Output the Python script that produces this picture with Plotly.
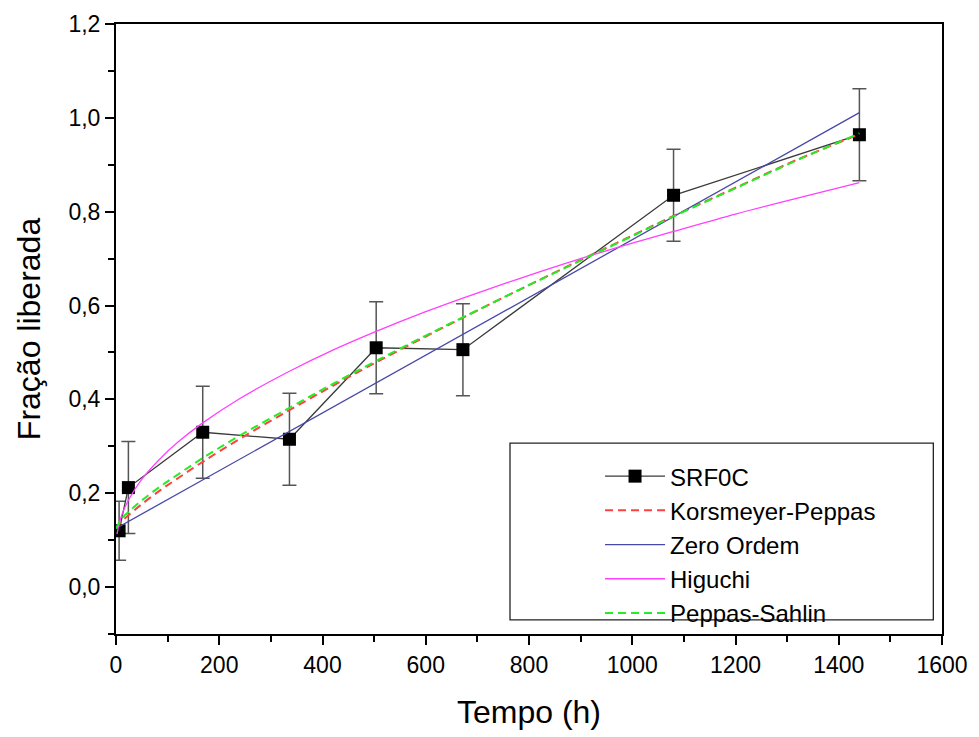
import plotly.graph_objects as go

# ---- data ----
t_exp = [6, 24, 168, 336, 504, 672, 1080, 1440]
f_exp = [0.120, 0.212, 0.330, 0.315, 0.510, 0.506, 0.835, 0.964]
f_err = [0.063, 0.098, 0.098, 0.098, 0.098, 0.098, 0.098, 0.098]

t_kp = [0, 12, 24, 48, 84, 120, 168, 240, 336, 420, 504, 600, 672, 780, 900, 1000, 1080, 1200, 1320, 1440]
f_kp = [0.125, 0.141, 0.153, 0.175, 0.205, 0.232, 0.267, 0.316, 0.377, 0.429, 0.479, 0.534,
        0.574, 0.633, 0.697, 0.749, 0.791, 0.851, 0.911, 0.965]

t_zero = [0, 1440]
f_zero = [0.125, 1.011]

t_hig = [2, 6, 12, 24, 48, 84, 120, 168, 240, 336, 420, 504, 600, 672, 780, 900, 1000, 1080, 1200, 1320, 1440]
f_hig = [0.113, 0.135, 0.156, 0.185, 0.227, 0.272, 0.309, 0.350, 0.402, 0.460, 0.505, 0.545,
         0.587, 0.616, 0.657, 0.700, 0.733, 0.758, 0.795, 0.829, 0.862]

t_ps = t_kp
f_ps = [0.125, 0.147, 0.160, 0.183, 0.213, 0.240, 0.275, 0.323, 0.382, 0.433, 0.482, 0.536,
        0.575, 0.633, 0.696, 0.748, 0.790, 0.850, 0.910, 0.967]

x_tickvals = [0, 200, 400, 600, 800, 1000, 1200, 1400, 1600]
x_ticktext = ["0", "200", "400", "600", "800", "1000", "1200", "1400", "1600"]
y_tickvals = [0.0, 0.2, 0.4, 0.6, 0.8, 1.0, 1.2]
y_ticktext = ["0,0", "0,2", "0,4", "0,6", "0,8", "1,0", "1,2"]

FONT = "Liberation Sans, Arial, sans-serif"

fig = go.Figure()

fig.add_trace(go.Scatter(
    x=t_exp, y=f_exp, name="SRF0C", mode="lines+markers",
    line=dict(color="#3a3a3a", width=1.3),
    marker=dict(symbol="square", size=13, color="black"),
    error_y=dict(type="data", array=f_err, visible=True, color="#555555",
                 thickness=1.5, width=7),
))
fig.add_trace(go.Scatter(
    x=t_kp, y=f_kp, name="Korsmeyer-Peppas", mode="lines", line_shape="spline",
    line=dict(color="#ff4040", width=2, dash="8px,5px"),
))
fig.add_trace(go.Scatter(
    x=t_zero, y=f_zero, name="Zero Ordem", mode="lines",
    line=dict(color="#4848a8", width=1.3),
))
fig.add_trace(go.Scatter(
    x=t_hig, y=f_hig, name="Higuchi", mode="lines", line_shape="spline",
    line=dict(color="#ff40ff", width=1.3),
))
fig.add_trace(go.Scatter(
    x=t_ps, y=f_ps, name="Peppas-Sahlin", mode="lines", line_shape="spline",
    line=dict(color="#22ee22", width=2, dash="8px,5px"),
))

# legend frame
fig.add_shape(type="rect", xref="paper", yref="paper",
              x0=0.477, x1=0.9895, y0=0.023, y1=0.313,
              line=dict(color="#222222", width=1.3), fillcolor="white", layer="below")

axis_common = dict(
    showline=True, linecolor="black", linewidth=2, mirror=True,
    ticks="outside", ticklen=9, tickwidth=2, tickcolor="black",
    showgrid=False, zeroline=False,
    tickfont=dict(family=FONT, size=23, color="black"),
)

fig.update_xaxes(
    range=[0, 1600], tickvals=x_tickvals, ticktext=x_ticktext,
    minor=dict(ticks="outside", ticklen=6, tickwidth=2, tickcolor="black", dtick=100, showgrid=False),
    title=dict(text="Tempo (h)", font=dict(family=FONT, size=32, color="black"), standoff=24),
    **axis_common,
)
fig.update_yaxes(
    range=[-0.1, 1.2], tickvals=y_tickvals, ticktext=y_ticktext,
    minor=dict(ticks="outside", ticklen=6, tickwidth=2, tickcolor="black", dtick=0.1, tick0=0, showgrid=False),
    title=dict(text="Fração liberada", font=dict(family=FONT, size=32, color="black"), standoff=18),
    **axis_common,
)

fig.update_layout(
    width=979, height=737,
    margin=dict(l=116, r=37, t=24, b=103),
    plot_bgcolor="white", paper_bgcolor="white",
    legend=dict(
        x=0.586, y=0.295, xanchor="left", yanchor="top",
        bgcolor="rgba(0,0,0,0)", borderwidth=0, itemwidth=60,
        font=dict(family=FONT, size=24, color="black"),
    ),
)

fig.write_html("out.html")
